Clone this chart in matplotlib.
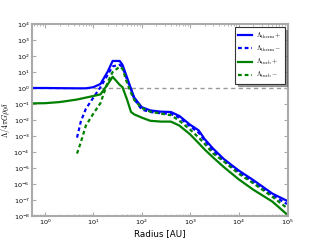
import numpy as np
import matplotlib
matplotlib.use("Agg")
import matplotlib.pyplot as plt

plt.rcParams['mathtext.fontset'] = 'cm'
plt.rcParams['font.family'] = ['DejaVu Sans']

# Radius grid [AU]
radius = [0.54, 1, 2, 4.6, 5.5, 7, 10, 14, 20, 25, 35, 40, 50, 60, 70, 100, 150,
          250, 400, 600, 1000, 1500, 2000, 3000, 5000, 1e4, 2e4, 5e4, 1e5]

# log10 values of Lambda / 4 pi G rho0 delta
therm_plus = [0.0, 0.0, -0.01, -0.02, -0.02, -0.02, 0.05, 0.25, 1.05, 1.69, 1.69, 1.45,
              0.63, -0.05, -0.6, -1.2, -1.4, -1.48, -1.5, -1.75, -2.3, -2.65, -3.2,
              -3.8, -4.45, -5.15, -5.75, -6.6, -7.05]
therm_minus = [np.nan, np.nan, np.nan, -3.1, -2.1, -1.3, -0.6, 0.05, 0.85, 1.35, 1.45,
               1.3, 0.5, -0.1, -0.7, -1.35, -1.5, -1.58, -1.62, -1.85, -2.4, -2.8,
               -3.3, -3.95, -4.55, -5.25, -5.88, -6.7, -7.25]
turb_plus = [-0.96, -0.95, -0.88, -0.72, -0.67, -0.6, -0.5, -0.4, 0.25, 0.7, 0.2,
             0.05, -0.75, -1.5, -1.65, -1.85, -2.05, -2.1, -2.1, -2.35, -2.9, -3.45,
             -3.85, -4.35, -4.95, -5.7, -6.35, -7.1, -7.9]
turb_minus = [np.nan, np.nan, np.nan, -4.1, -3.4, -2.35, -1.6, -0.95, 0.4, 1.0, 1.33,
              1.2, 0.3, -0.3, -0.75, -1.25, -1.48, -1.6, -1.7, -2.05, -2.6, -3.1,
              -3.5, -4.1, -4.6, -5.35, -5.95, -6.8, -7.5]

labels = [r'$\Lambda_{\rm therm}+$', r'$\Lambda_{\rm therm}-$',
          r'$\Lambda_{\rm turb}+$', r'$\Lambda_{\rm turb}-$']

r = np.array(radius)
def lin(v):
    return 10 ** np.array(v, dtype=float)

fig = plt.figure(figsize=(3.2, 2.4), dpi=100)
ax = fig.add_axes([0.1, 0.1, 0.8, 0.8])

lw = 1.6
dsh = (1.7, 1.3)
ax.axhline(1.0, color='#999999', ls='--', lw=1.0, dashes=(3, 2.5), zorder=1)
ax.plot(r, lin(therm_plus), color='b', lw=lw, label=labels[0])
ax.plot(r, lin(therm_minus), color='b', lw=lw, dashes=dsh, label=labels[1])
ax.plot(r, lin(turb_plus), color='g', lw=lw, label=labels[2])
ax.plot(r, lin(turb_minus), color='g', lw=lw, dashes=dsh, label=labels[3])

ax.set_xscale('log')
ax.set_yscale('log')
ax.set_xlim(0.54, 1.05e5)
ax.set_ylim(1e-8, 1e4)
ax.set_yticks([10.0 ** k for k in range(-8, 5)])
ax.yaxis.set_minor_locator(matplotlib.ticker.NullLocator())

for s in ax.spines.values():
    s.set_color('#aaaaaa')
    s.set_linewidth(1.5)
ax.tick_params(which='both', direction='in', top=True, right=True, colors='#aaaaaa',
               labelcolor='black', labelsize=4.6, pad=1.5)
ax.tick_params(which='major', length=3, width=0.8)
ax.tick_params(which='minor', length=1.5, width=0.6)

ax.set_xlabel('Radius [AU]', fontsize=6.3, labelpad=1)
ax.set_ylabel(r'$\Lambda/4\pi G\rho_0\delta$', fontsize=5.6)
ax.yaxis.set_label_coords(-0.078, 0.5)

leg = ax.legend(loc='upper right', fontsize=4.8, shadow=True, fancybox=False,
                handlelength=2.0, handletextpad=0.6, labelspacing=0.45,
                borderaxespad=0.5, borderpad=0.5, framealpha=1)
leg.get_frame().set_edgecolor('#333333')
leg.get_frame().set_linewidth(0.8)

fig.savefig('out.png', dpi=100)
